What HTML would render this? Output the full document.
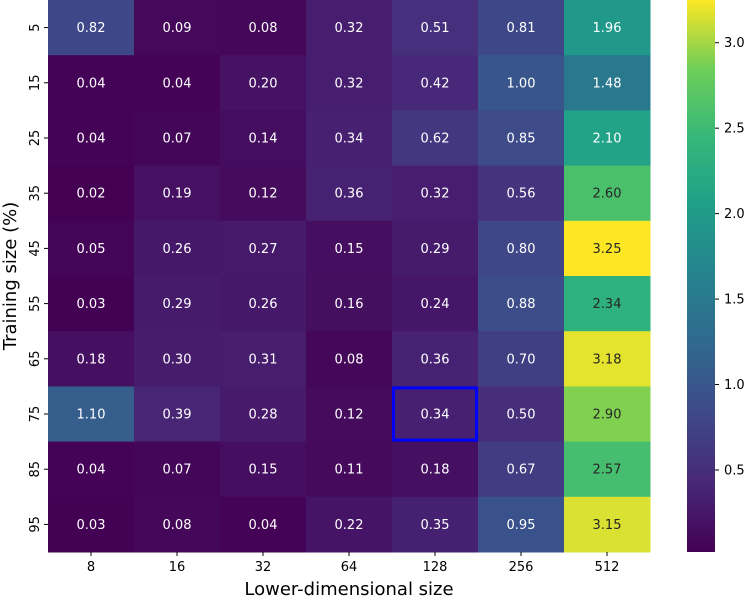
<!DOCTYPE html>
<html><head><meta charset="utf-8">
<style>
body{margin:0;background:#fff;}
svg text{font-family:"DejaVu Sans","Liberation Sans",sans-serif;}
</style></head>
<body>
<svg id="chart" width="746" height="600" xmlns="http://www.w3.org/2000/svg">
<defs>
<linearGradient id="vir" x1="0" y1="1" x2="0" y2="0">
<stop offset="0" stop-color="#440154"/><stop offset="0.125" stop-color="#482878"/>
<stop offset="0.25" stop-color="#3e4989"/><stop offset="0.375" stop-color="#31688e"/>
<stop offset="0.5" stop-color="#26828e"/><stop offset="0.625" stop-color="#1f9e89"/>
<stop offset="0.75" stop-color="#35b779"/><stop offset="0.875" stop-color="#6ece58"/>
<stop offset="1" stop-color="#fde725"/>
</linearGradient>
</defs>
<g id="cells"></g>
<g id="axes"></g>
<rect x="687" y="0" width="28" height="552" fill="url(#vir)"/>
<g id="cbar"></g>
<text x="349" y="595" font-size="18" text-anchor="middle">Lower-dimensional size</text>
<text transform="translate(16,276) rotate(-90)" font-size="18" text-anchor="middle">Training size (%)</text>
</svg>
<script>
const cols = ["8","16","32","64","128","256","512"];
const rows = ["5","15","25","35","45","55","65","75","85","95"];
const values = [
[0.82,0.09,0.08,0.32,0.51,0.81,1.96],
[0.04,0.04,0.20,0.32,0.42,1.00,1.48],
[0.04,0.07,0.14,0.34,0.62,0.85,2.10],
[0.02,0.19,0.12,0.36,0.32,0.56,2.60],
[0.05,0.26,0.27,0.15,0.29,0.80,3.25],
[0.03,0.29,0.26,0.16,0.24,0.88,2.34],
[0.18,0.30,0.31,0.08,0.36,0.70,3.18],
[1.10,0.39,0.28,0.12,0.34,0.50,2.90],
[0.04,0.07,0.15,0.11,0.18,0.67,2.57],
[0.03,0.08,0.04,0.22,0.35,0.95,3.15]];
const cbarTicks = [0.5,1.0,1.5,2.0,2.5,3.0];
const highlight = {row:"75", col:"128"};
const vmin = 0.02, vmax = 3.25;

const X0=48, X1=650, Y0=0, Y1=552;
const cw=(X1-X0)/cols.length, ch=(Y1-Y0)/rows.length;
const xPos = i => X0 + i*cw;
const yPos = j => Y0 + j*ch;
const cY = v => Y1 - (v-vmin)/(vmax-vmin)*(Y1-Y0);

const V=[[68,1,84],[72,40,120],[62,73,137],[49,104,142],[38,130,142],[31,158,137],[53,183,121],[110,206,88],[253,231,37]];
function vir(v){
  let t=Math.max(0,Math.min(1,(v-vmin)/(vmax-vmin)))*8;
  let i=Math.min(7,Math.floor(t)), f=t-i;
  const c=V[i].map((a,k)=>Math.round(a+(V[i+1][k]-a)*f));
  return {s:`rgb(${c})`, lum:(0.2126*c[0]+0.7152*c[1]+0.0722*c[2])/255};
}
const NS="http://www.w3.org/2000/svg";
function mk(tag,attrs,parent,txt){const e=document.createElementNS(NS,tag);for(const k in attrs)e.setAttribute(k,attrs[k]);if(txt!==undefined)e.textContent=txt;parent.appendChild(e);return e;}
const cells=document.getElementById('cells'), axes=document.getElementById('axes'), cbar=document.getElementById('cbar');
rows.forEach((r,j)=>{cols.forEach((c,i)=>{
  const v=values[j][i], col=vir(v);
  const rc=mk('rect',{x:xPos(i),y:yPos(j),width:cw+0.5,height:ch+0.5,fill:col.s},cells);
  
  
  const t=mk('text',{x:xPos(i)+cw/2,y:yPos(j)+ch/2+4.5,'font-size':13,'text-anchor':'middle',fill:col.lum>0.55?'#262626':'#ffffff'},cells,v.toFixed(2));
  
  
});});
const hr=rows.indexOf(highlight.row), hc=cols.indexOf(highlight.col);
const hl=mk('rect',{x:xPos(hc)+1.5,y:yPos(hr)+1.5,width:cw-3,height:ch-3,fill:'none',stroke:'#0000ff','stroke-width':3},cells);


cols.forEach((c,i)=>{
  const x=xPos(i)+cw/2;
  mk('line',{x1:x,x2:x,y1:Y1,y2:Y1+4,stroke:'#000'},axes);
  const t=mk('text',{x:x,y:Y1+19,'font-size':13,'text-anchor':'middle'},axes,c);
  
  
});
rows.forEach((r,j)=>{
  const y=yPos(j)+ch/2;
  mk('line',{x1:X0-4,x2:X0,y1:y,y2:y,stroke:'#000'},axes);
  const t=mk('text',{transform:`translate(${X0-9},${y}) rotate(-90)`,'font-size':13,'text-anchor':'middle'},axes,r);
  
  
});
cbarTicks.forEach(v=>{
  const y=cY(v);
  mk('line',{x1:715,x2:719,y1:y,y2:y,stroke:'#000'},cbar);
  const t=mk('text',{x:724,y:y+4.5,'font-size':13},cbar,v.toFixed(1));
  
  
});
</script>
</body></html>
